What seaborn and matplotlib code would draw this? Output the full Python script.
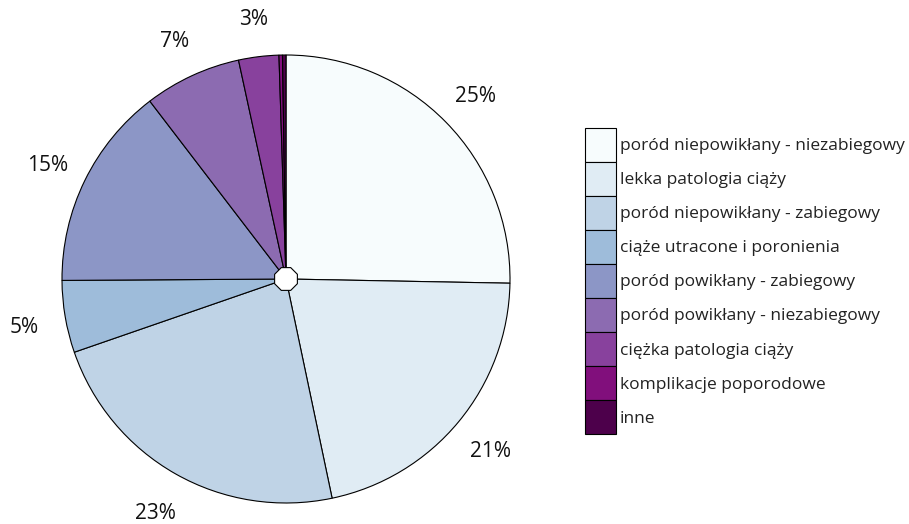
import matplotlib
matplotlib.use("Agg")
import matplotlib.pyplot as plt
from matplotlib.patches import RegularPolygon
import seaborn as sns

# data (percent of total)
categories = [
    "poród niepowikłany - niezabiegowy",
    "lekka patologia ciąży",
    "poród niepowikłany - zabiegowy",
    "ciąże utracone i poronienia",
    "poród powikłany - zabiegowy",
    "poród powikłany - niezabiegowy",
    "ciężka patologia ciąży",
    "komplikacje poporodowe",
    "inne",
]
shares = [25.3, 21.4, 23.0, 5.2, 14.7, 7.0, 2.9, 0.25, 0.25]

# ColorBrewer BuPu (9 classes)
palette = ["#f7fcfd", "#e0ecf4", "#bfd3e6", "#9ebcda", "#8c96c6",
           "#8c6bb1", "#88419d", "#810f7c", "#4d004b"]

sns.set_theme(style="white")
plt.rcParams["font.family"] = ["Open Sans", "DejaVu Sans"]

fig = plt.figure(figsize=(9.09, 5.24), dpi=100, facecolor="white")
ax = fig.add_axes([62 / 909, 21 / 524, 448 / 909, 448 / 524])


def pct_label(p):
    return f"{p:.0f}%" if p >= 1 else ""


wedges, texts, autotexts = ax.pie(
    shares, colors=palette, startangle=90, counterclock=False,
    autopct=pct_label, pctdistance=1.185,
    wedgeprops=dict(edgecolor="black", linewidth=0.8),
    textprops=dict(fontsize=15, color="#111111"),
)
# nudge the percentage labels down a little, like the original
for t in autotexts:
    t.set_y(t.get_position()[1] - 0.016)

ax.add_patch(RegularPolygon((0, 0), numVertices=8, radius=0.055,
                            orientation=3.14159 / 8, facecolor="white",
                            edgecolor="black", linewidth=0.8, zorder=5))
ax.set_xlim(-1, 1)
ax.set_ylim(-1, 1)
ax.set_aspect("equal")
ax.axis("off")

fig.legend(wedges, categories, loc="upper left",
           bbox_to_anchor=(585 / 909, 1 - 128 / 524),
           frameon=False, fontsize=12.5, borderpad=0, borderaxespad=0,
           handlelength=1.79, handleheight=2.64, handletextpad=0.23,
           labelspacing=0, labelcolor="#222222")

fig.savefig("out.png", dpi=100)
